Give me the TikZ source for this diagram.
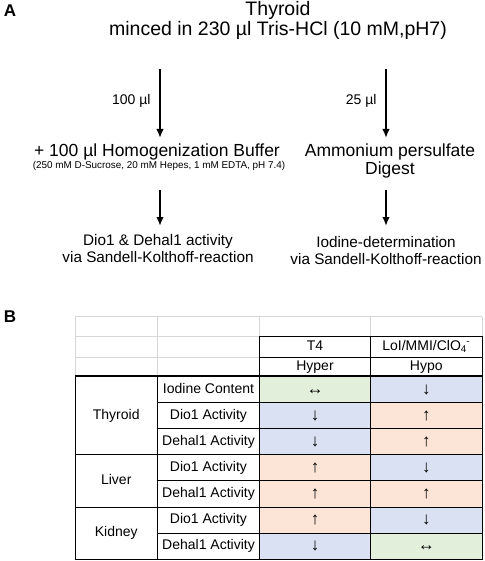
\documentclass[tikz,border=0pt]{standalone}
\usepackage{fontspec}
\setmainfont{Liberation Sans}
\usetikzlibrary{arrows.meta, positioning}

\definecolor{upfill}{HTML}{FCE4D6}
\definecolor{downfill}{HTML}{D9E1F2}
\definecolor{samefill}{HTML}{E2EFDA}
\definecolor{gridgrey}{HTML}{D6D6D6}

\begin{document}
\begin{tikzpicture}[x=1pt, y=-1pt,
    flow/.style={-{Latex[length=9pt,width=7.5pt]}, line width=1.8pt},
    big/.style={anchor=base, font=\fontsize{19.5}{23}\selectfont},
    mid/.style={anchor=base, font=\fontsize{17.5}{21}\selectfont},
    step text/.style={anchor=base, font=\fontsize{15.3}{18}\selectfont},
    vol/.style={anchor=base east, font=\fontsize{14}{16}\selectfont},
    cell/.style={draw, line width=0.9pt, minimum height=26.1pt, inner sep=0pt,
        text height=10pt, text depth=3pt, font=\fontsize{14}{16}\selectfont},
    organcell/.style={cell, minimum width=82.5pt},
    itemcell/.style={cell, minimum width=102pt},
    valcell/.style={cell, minimum width=111pt, font=\fontsize{17}{18}\selectfont,
        text height=11pt, text depth=2pt},
    headcell/.style={cell, minimum width=111pt, text height=9.5pt, text depth=2.5pt}
]
    \useasboundingbox (0,0) rectangle (484,561);

    % panel A
    \node[font=\bfseries\fontsize{17}{20}\selectfont] (labA) at (10,11) {A};
    \node[big] (thyroid) at (278,16) {Thyroid};
    \node[big] (minced) at (278,36) {minced in 230 µl Tris-HCl (10 mM,pH7)};

    \coordinate (a1s) at (160,69);
    \coordinate (a1e) at (160,138);
    \coordinate (a2s) at (386,69);
    \coordinate (a2e) at (386,138);
    \draw[flow] (a1s) -- (a1e);
    \draw[flow] (a2s) -- (a2e);
    \node[vol] (vol1) at (154,105) {100 µl};
    \node[vol] (vol2) at (380,105) {25 µl};

    \node[mid] (buffer) at (157,157) {+ 100 µl Homogenization Buffer};
    \node[anchor=base, font=\fontsize{9.9}{12}\selectfont] (recipe) at (159,169)
        {(250 mM D-Sucrose, 20 mM Hepes, 1 mM EDTA, pH 7.4)};
    \node[mid] (persulf) at (390,157) {Ammonium persulfate};
    \node[mid] (digest) at (390,175) {Digest};

    \coordinate (b1s) at (160,190);
    \coordinate (b1e) at (160,226);
    \coordinate (b2s) at (386,190);
    \coordinate (b2e) at (386,226);
    \draw[flow] (b1s) -- (b1e);
    \draw[flow] (b2s) -- (b2e);

    \node[step text] (dio) at (158,245) {Dio1 \& Dehal1 activity};
    \node[step text] (sk1) at (158,262) {via Sandell-Kolthoff-reaction};
    \node[step text] (iodet) at (386,247) {Iodine-determination};
    \node[step text] (sk2) at (386,264) {via Sandell-Kolthoff-reaction};

    % panel B
    \node[font=\bfseries\fontsize{17}{20}\selectfont] (labB) at (10,317) {B};

    % spreadsheet grid
    \draw[gridgrey, line width=0.9pt] (75,316.5) -- (482,316.5);
    \draw[gridgrey, line width=0.9pt] (75,336) -- (259.5,336);
    \draw[gridgrey, line width=0.9pt] (75,357) -- (259.5,357);
    \draw[gridgrey, line width=0.9pt] (75,316.5) -- (75,376.5);
    \draw[gridgrey, line width=0.9pt] (157.5,316.5) -- (157.5,376.5);
    \draw[gridgrey, line width=0.9pt] (259.5,316.5) -- (259.5,336);
    \draw[gridgrey, line width=0.9pt] (370.5,316.5) -- (370.5,336);
    \draw[gridgrey, line width=0.9pt] (482,316.5) -- (482,336);

    \node[headcell, minimum height=21pt] (t4) at (315,346.5) {T4};
    \node[headcell, minimum height=21pt, minimum width=111.5pt] (loi) at (426.25,346.5)
        {LoI/MMI/ClO\textsubscript{4}\kern-0.5pt\textsuperscript{-}};
    \node[headcell, minimum height=19.5pt] (hyper) at (315,366.75) {Hyper};
    \node[headcell, minimum height=19.5pt, minimum width=111.5pt] (hypo) at (426.25,366.75) {Hypo};

    \node[organcell, minimum height=78.3pt] (thy) at (116.25,415.65) {Thyroid};
    \node[organcell, minimum height=52.2pt] (liver) at (116.25,480.9) {Liver};
    \node[organcell, minimum height=52.2pt] (kidney) at (116.25,533.1) {Kidney};

    \node[itemcell] (thyI) at (208.5,389.55) {Iodine Content};
    \node[itemcell] (thyD) at (208.5,415.65) {Dio1 Activity};
    \node[itemcell] (thyH) at (208.5,441.75) {Dehal1 Activity};
    \node[itemcell] (livD) at (208.5,467.85) {Dio1 Activity};
    \node[itemcell] (livH) at (208.5,493.95) {Dehal1 Activity};
    \node[itemcell] (kidD) at (208.5,520.05) {Dio1 Activity};
    \node[itemcell] (kidH) at (208.5,546.15) {Dehal1 Activity};

    \node[valcell, fill=samefill] (hyperI) at (315,389.55) {↔};
    \node[valcell, fill=downfill] (hyperD) at (315,415.65) {↓};
    \node[valcell, fill=downfill] (hyperH) at (315,441.75) {↓};
    \node[valcell, fill=upfill] (hyperLD) at (315,467.85) {↑};
    \node[valcell, fill=upfill] (hyperLH) at (315,493.95) {↑};
    \node[valcell, fill=upfill] (hyperKD) at (315,520.05) {↑};
    \node[valcell, fill=downfill] (hyperKH) at (315,546.15) {↓};

    \node[valcell, minimum width=111.5pt, fill=downfill] (hypoI) at (426.25,389.55) {↓};
    \node[valcell, minimum width=111.5pt, fill=upfill] (hypoD) at (426.25,415.65) {↑};
    \node[valcell, minimum width=111.5pt, fill=upfill] (hypoH) at (426.25,441.75) {↑};
    \node[valcell, minimum width=111.5pt, fill=downfill] (hypoLD) at (426.25,467.85) {↓};
    \node[valcell, minimum width=111.5pt, fill=upfill] (hypoLH) at (426.25,493.95) {↑};
    \node[valcell, minimum width=111.5pt, fill=downfill] (hypoKD) at (426.25,520.05) {↓};
    \node[valcell, minimum width=111.5pt, fill=samefill] (hypoKH) at (426.25,546.15) {↔};

    \draw[line width=1.8pt] (thy.north west) -- (hypoI.north east);
    \draw[line width=1.4pt] (kidney.south west) -- (hypoKH.south east);
\end{tikzpicture}
\end{document}
